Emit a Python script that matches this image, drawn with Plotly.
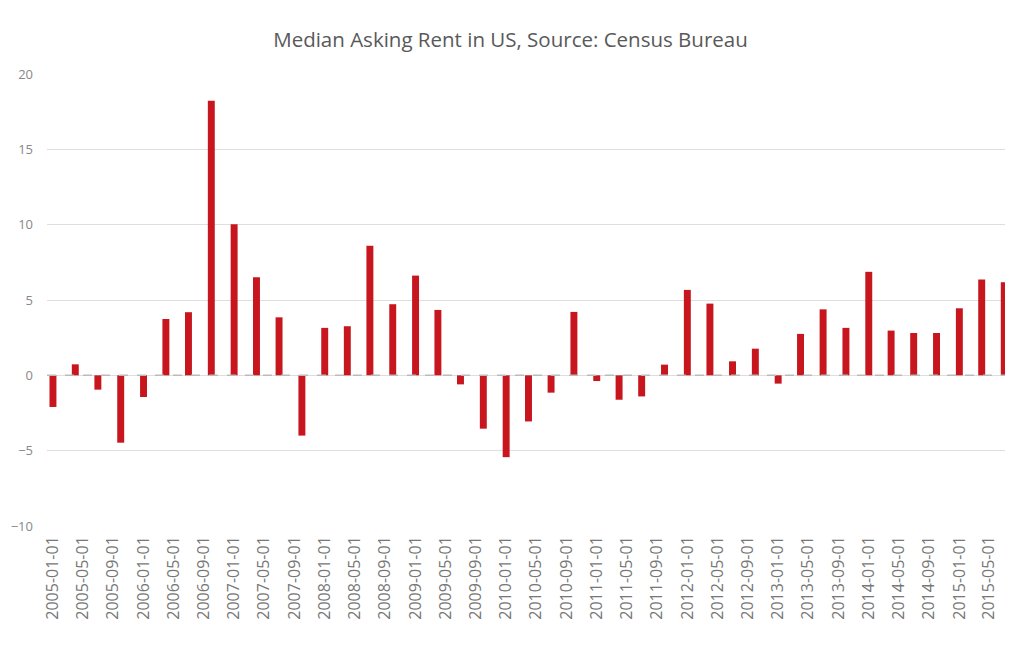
import plotly.graph_objects as go
import pandas as pd

# Quarterly dates 2005-01-01 .. 2015-07-01
dates = pd.date_range("2005-01-01", "2015-07-01", freq="QS").strftime("%Y-%m-%d").tolist()
values = [
    -2.1, 0.73, -0.95, -4.47, -1.44, 3.74, 4.19, 18.23, 10.03, 6.51, 3.85,
    -4.0, 3.15, 3.26, 8.6, 4.72, 6.62, 4.34, -0.6, -3.54, -5.43, -3.06,
    -1.15, 4.21, -0.38, -1.62, -1.4, 0.71, 5.67, 4.76, 0.93, 1.77, -0.55,
    2.75, 4.38, 3.15, 6.87, 2.97, 2.81, 2.81, 4.45, 6.36, 6.18,
]
tick_dates = pd.date_range("2005-01-01", "2015-05-01", freq="4MS").strftime("%Y-%m-%d").tolist()
y_ticks = [-10, -5, 0, 5, 10, 15, 20]

DAY_MS = 86400000

fig = go.Figure()
fig.add_trace(go.Bar(
    x=dates, y=values,
    marker=dict(color="#C8161E", line=dict(width=0)),
    width=[28 * DAY_MS] * len(dates),
    showlegend=False,
))

fig.add_shape(type="line", xref="paper", yref="y", x0=0, x1=1, y0=0, y1=0,
              line=dict(color="#BBBBBB", width=1.5, dash="dash"), layer="above")

# page body has an 8px margin; figure sized so it fits the 1013x645 window
fig.update_layout(
    width=1005, height=637,
    margin=dict(l=39, r=5, t=66, b=119),
    paper_bgcolor="white", plot_bgcolor="white",
    font=dict(family="Open Sans", color="#777777"),
    title=dict(text="Median Asking Rent in US, Source: Census Bureau",
               x=0.5, xanchor="center", y=0.95, yanchor="middle",
               font=dict(family="Open Sans", size=20.5, color="#595959")),
    xaxis=dict(
        type="date",
        range=["2004-12-08", "2015-07-16"],
        tickvals=tick_dates, ticktext=tick_dates,
        tickangle=-90, tickfont=dict(size=16, color="#777777"),
        showgrid=False, zeroline=False, showline=False, ticks="",
        ticklabelstandoff=6, automargin=False,
    ),
    yaxis=dict(
        range=[-10, 20], tickvals=y_ticks,
        tickfont=dict(size=13, color="#888888"),
        showgrid=True, gridcolor="#DEDEDE", gridwidth=1,
        zeroline=False, showline=False, ticks="", ticklabelstandoff=13,
        automargin=False,
    ),
)

fig.write_html("out.html")
